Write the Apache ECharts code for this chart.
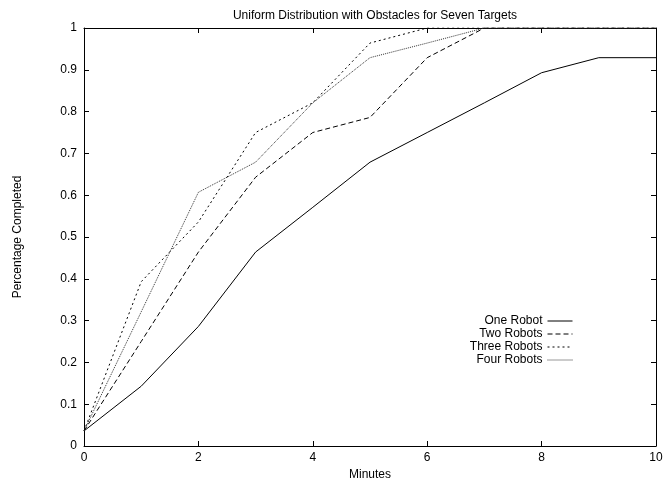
<!DOCTYPE html>
<html style="height: 100%">
<head>
<meta charset="UTF-8" />
<title>Uniform Distribution with Obstacles for Seven Targets</title>
<style>
html, body { margin: 0; padding: 0; background: #ffffff; }
#chartBox { width: 672px; height: 478px; }
</style>
</head>
<body>
	<div id="chartBox"></div>
	<script src="https://cdn.jsdelivr.net/npm/echarts@6/dist/echarts.min.js"></script>
	<script>
		// minutes on the x axis
		var minutes = [0, 1, 2, 3, 4, 5, 6, 7, 8, 9, 10];
		// fraction of targets found (steps of 1/28)
		var oneRobot = [0.036, 0.143, 0.286, 0.464, 0.571, 0.679, 0.750, 0.821, 0.893, 0.929, 0.929];
		var twoRobots = [0.036, 0.250, 0.464, 0.643, 0.750, 0.786, 0.929, 1.0, 1.0, 1.0, 1.0];
		var threeRobots = [0.036, 0.393, 0.536, 0.750, 0.821, 0.964, 1.0, 1.0, 1.0, 1.0, 1.0];
		var fourRobots = [0.036, 0.321, 0.607, 0.679, 0.821, 0.929, 0.964, 1.0, 1.0, 1.0, 1.0];
		var seriesNames = ['One Robot', 'Two Robots', 'Three Robots', 'Four Robots'];

		var fontName = 'Liberation Sans';
		var myChart = echarts.init(document.getElementById('chartBox'), null, { renderer: 'canvas' });

		function toPairs(vals) {
			var res = [];
			for (var i = 0; i < minutes.length; i++) {
				res.push([minutes[i], vals[i]]);
			}
			return res;
		}

		function makeLine(name, vals, dash, color) {
			return {
				name: name,
				type: 'line',
				data: toPairs(vals),
				symbol: 'none',
				animation: false,
				lineStyle: { color: color, width: 1, type: dash },
				itemStyle: { color: color }
			};
		}

		// gnuplot style ticks, pointing into the plot
		function tickStyle() {
			return { show: true, inside: true, length: 5, lineStyle: { color: '#000', width: 1 } };
		}
		function frameLine() {
			return { show: true, onZero: false, lineStyle: { color: '#000', width: 1 } };
		}

		var option = {
			backgroundColor: '#fff',
			title: {
				text: 'Uniform Distribution with Obstacles for Seven Targets',
				left: 370,
				textAlign: 'center',
				top: 5,
				textStyle: { fontFamily: fontName, fontSize: 12, fontWeight: 'normal', color: '#000' }
			},
			grid: {
				left: 84, right: 16, top: 28, bottom: 32,
				outerBoundsMode: 'none',
				containLabel: false,
				show: false
			},
			legend: {
				orient: 'vertical',
				right: 94,
				top: 310,
				align: 'right',
				itemWidth: 25,
				itemHeight: 2,
				itemGap: 1,
				lineStyle: { width: 1 },
				itemStyle: { opacity: 0 },
				textStyle: { fontFamily: fontName, fontSize: 12, color: '#000', padding: [0, 0, 0, 0] },
				data: seriesNames
			},
			xAxis: [{
				type: 'value',
				min: 0, max: 10, interval: 2,
				name: 'Minutes',
				nameLocation: 'middle',
				nameGap: 15,
				nameTextStyle: { fontFamily: fontName, fontSize: 12, color: '#000' },
				axisLine: frameLine(),
				axisTick: tickStyle(),
				axisLabel: { fontFamily: fontName, fontSize: 12, color: '#000', margin: 6 },
				splitLine: { show: false }
			}, {
				type: 'value',
				position: 'top',
				min: 0, max: 10, interval: 2,
				axisLine: frameLine(),
				axisTick: tickStyle(),
				axisLabel: { show: false },
				splitLine: { show: false }
			}],
			yAxis: [{
				type: 'value',
				min: 0, max: 1, interval: 0.1,
				name: 'Percentage Completed',
				nameLocation: 'middle',
				nameGap: 60,
				nameTextStyle: { fontFamily: fontName, fontSize: 12, color: '#000' },
				axisLine: frameLine(),
				axisTick: tickStyle(),
				axisLabel: {
					fontFamily: fontName, fontSize: 12, color: '#000', margin: 7,
					formatter: function (v) { return String(Math.round(v * 10) / 10); }
				},
				splitLine: { show: false }
			}, {
				type: 'value',
				position: 'right',
				min: 0, max: 1, interval: 0.1,
				axisLine: frameLine(),
				axisTick: tickStyle(),
				axisLabel: { show: false },
				splitLine: { show: false }
			}],
			series: [
				makeLine(seriesNames[0], oneRobot, 'solid', '#000'),
				makeLine(seriesNames[1], twoRobots, [5, 3], '#000'),
				makeLine(seriesNames[2], threeRobots, [2, 3], '#000'),
				makeLine(seriesNames[3], fourRobots, [1, 1], '#333')
			]
		};
		myChart.setOption(option);
	</script>
</body>
</html>
